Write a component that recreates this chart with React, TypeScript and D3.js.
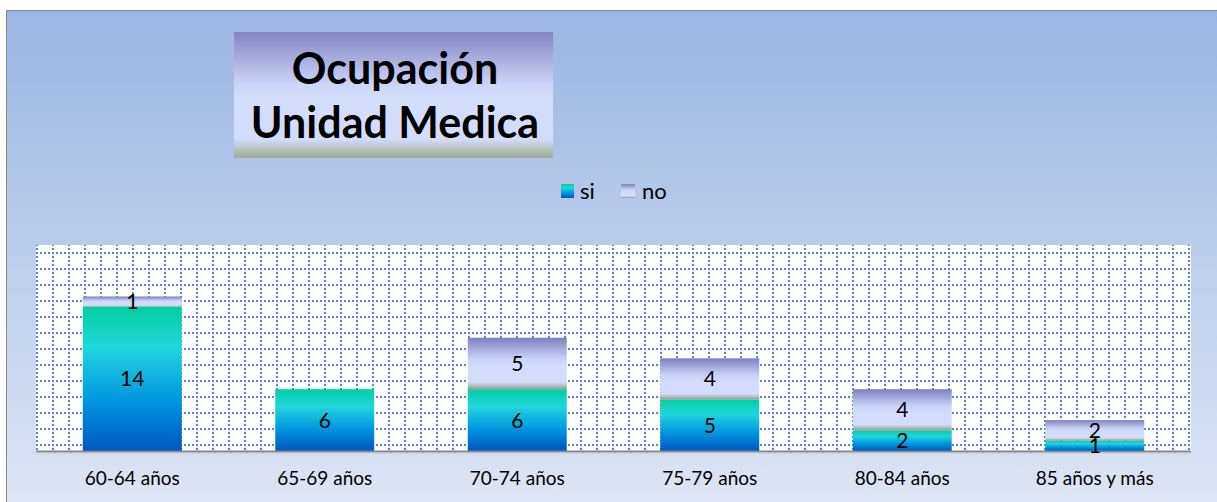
import React from "react";
import * as d3 from "d3";

// Chart data
const categories = ["60-64 años", "65-69 años", "70-74 años", "75-79 años", "80-84 años", "85 años y más"];
const siValues = [14, 6, 6, 5, 2, 1];
const noValues = [1, 0, 5, 4, 4, 2];
const seriesNames = ["si", "no"];
const titleLines = ["Ocupación", "Unidad Medica"];
const yMax = 20;

const W = 1217;
const H = 502;
const plot = { left: 36, right: 1191, top: 245, bottom: 451 };
const font = "Lato, 'Open Sans', sans-serif";

export default function App() {
  const x = d3
    .scaleBand<string>()
    .domain(categories)
    .range([plot.left, plot.right])
    .paddingInner(0.486)
    .paddingOuter(0.243);
  const y = d3.scaleLinear().domain([0, yMax]).range([plot.bottom, plot.top]);

  const rows = categories.map((c, i) => ({ cat: c, si: siValues[i], no: noValues[i] }));
  const stacked = d3.stack<any>().keys(seriesNames)(rows);

  return (
    <svg
      width={W}
      height={H}
      style={{ position: "absolute", left: 0, top: 0, display: "block" }}
    >
      <defs>
        <linearGradient id="bg" x1="0" y1="0" x2="0" y2="1">
          <stop offset="0%" stopColor="#9bb5e3" />
          <stop offset="100%" stopColor="#dfe6f4" />
        </linearGradient>
        <linearGradient id="gSi" x1="0" y1="0" x2="0" y2="1">
          <stop offset="0%" stopColor="#00cf9e" />
          <stop offset="28%" stopColor="#22d6dd" />
          <stop offset="65%" stopColor="#0095e0" />
          <stop offset="100%" stopColor="#0056bf" />
        </linearGradient>
        <linearGradient id="gNo" x1="0" y1="0" x2="0" y2="1">
          <stop offset="0%" stopColor="#7e80c0" />
          <stop offset="40%" stopColor="#c8d0f5" />
          <stop offset="55%" stopColor="#d4dcfd" />
          <stop offset="86%" stopColor="#d4dcfc" />
          <stop offset="93%" stopColor="#b4bec6" />
          <stop offset="100%" stopColor="#8f9c8e" />
        </linearGradient>
        <linearGradient id="gTitle" x1="0" y1="0" x2="0" y2="1">
          <stop offset="0%" stopColor="#8384c4" />
          <stop offset="42%" stopColor="#cdd5f8" />
          <stop offset="52%" stopColor="#d5ddfd" />
          <stop offset="85%" stopColor="#d4dcfb" />
          <stop offset="93%" stopColor="#b7c2bd" />
          <stop offset="100%" stopColor="#9cac98" />
        </linearGradient>
        <pattern
          id="grid"
          patternUnits="userSpaceOnUse"
          x={plot.left}
          y={252}
          width={16}
          height={16}
        >
          {[0, 4, 8, 12].map((d) => (
            <rect key={"h" + d} x={d} y={0} width={2} height={2} fill="#5686c2" />
          ))}
          {[4, 8, 12].map((d) => (
            <rect key={"v" + d} x={0} y={d} width={2} height={2} fill="#5686c2" />
          ))}
        </pattern>
      </defs>

      {/* chart frame */}
      <rect x={6.5} y={10.5} width={W} height={H} fill="url(#bg)" stroke="#878787" strokeWidth={1} />

      {/* title box */}
      <rect x={234} y={32} width={319} height={126} fill="url(#gTitle)" />
      {titleLines.map((t, i) => (
        <text
          key={t}
          x={395}
          y={84 + i * 54}
          textAnchor="middle"
          fontFamily={font}
          fontWeight={700}
          fontSize={43}
          fill="#000"
        >
          {t}
        </text>
      ))}

      {/* legend */}
      <rect x={561} y={184} width={13} height={14} fill="url(#gSi)" />
      <text x={580} y={199} fontFamily={font} fontSize={22} fill="#000">
        {seriesNames[0]}
      </text>
      <rect x={621} y={184} width={14} height={14} fill="url(#gNo)" />
      <text x={642} y={199} fontFamily={font} fontSize={22} fill="#000">
        {seriesNames[1]}
      </text>

      {/* plot area */}
      <rect
        x={plot.left}
        y={plot.top}
        width={plot.right - plot.left}
        height={plot.bottom - plot.top}
        fill="#fff"
      />
      <rect
        x={plot.left}
        y={plot.top}
        width={plot.right - plot.left}
        height={plot.bottom - plot.top}
        fill="url(#grid)"
      />

      {/* stacked bars */}
      {stacked.map((layer) =>
        layer.map((seg, i) => {
          const v = seg[1] - seg[0];
          if (v <= 0) return null;
          const cat = categories[i];
          return (
            <rect
              key={layer.key + cat}
              x={x(cat)!}
              y={y(seg[1])}
              width={x.bandwidth()}
              height={y(seg[0]) - y(seg[1])}
              fill={layer.key === "si" ? "url(#gSi)" : "url(#gNo)"}
            />
          );
        })
      )}

      {/* category axis */}
      <line x1={plot.left} x2={plot.right} y1={plot.bottom + 0.5} y2={plot.bottom + 0.5} stroke="#868686" strokeWidth={2} />
      <line x1={plot.left} x2={plot.right} y1={plot.bottom + 2} y2={plot.bottom + 2} stroke="#c4c8d0" strokeWidth={1} />
      {categories.map((c) => (
        <text
          key={c}
          x={x(c)! + x.bandwidth() / 2}
          y={485}
          textAnchor="middle"
          fontFamily={font}
          fontSize={19}
          fill="#000"
        >
          {c}
        </text>
      ))}

      {/* data labels */}
      {stacked.map((layer) =>
        layer.map((seg, i) => {
          const v = seg[1] - seg[0];
          if (v <= 0) return null;
          const cat = categories[i];
          return (
            <text
              key={"l" + layer.key + cat}
              x={x(cat)! + x.bandwidth() / 2}
              y={(y(seg[0]) + y(seg[1])) / 2}
              dy="0.36em"
              textAnchor="middle"
              fontFamily={font}
              fontSize={21}
              fill="#000"
            >
              {v}
            </text>
          );
        })
      )}
    </svg>
  );
}
